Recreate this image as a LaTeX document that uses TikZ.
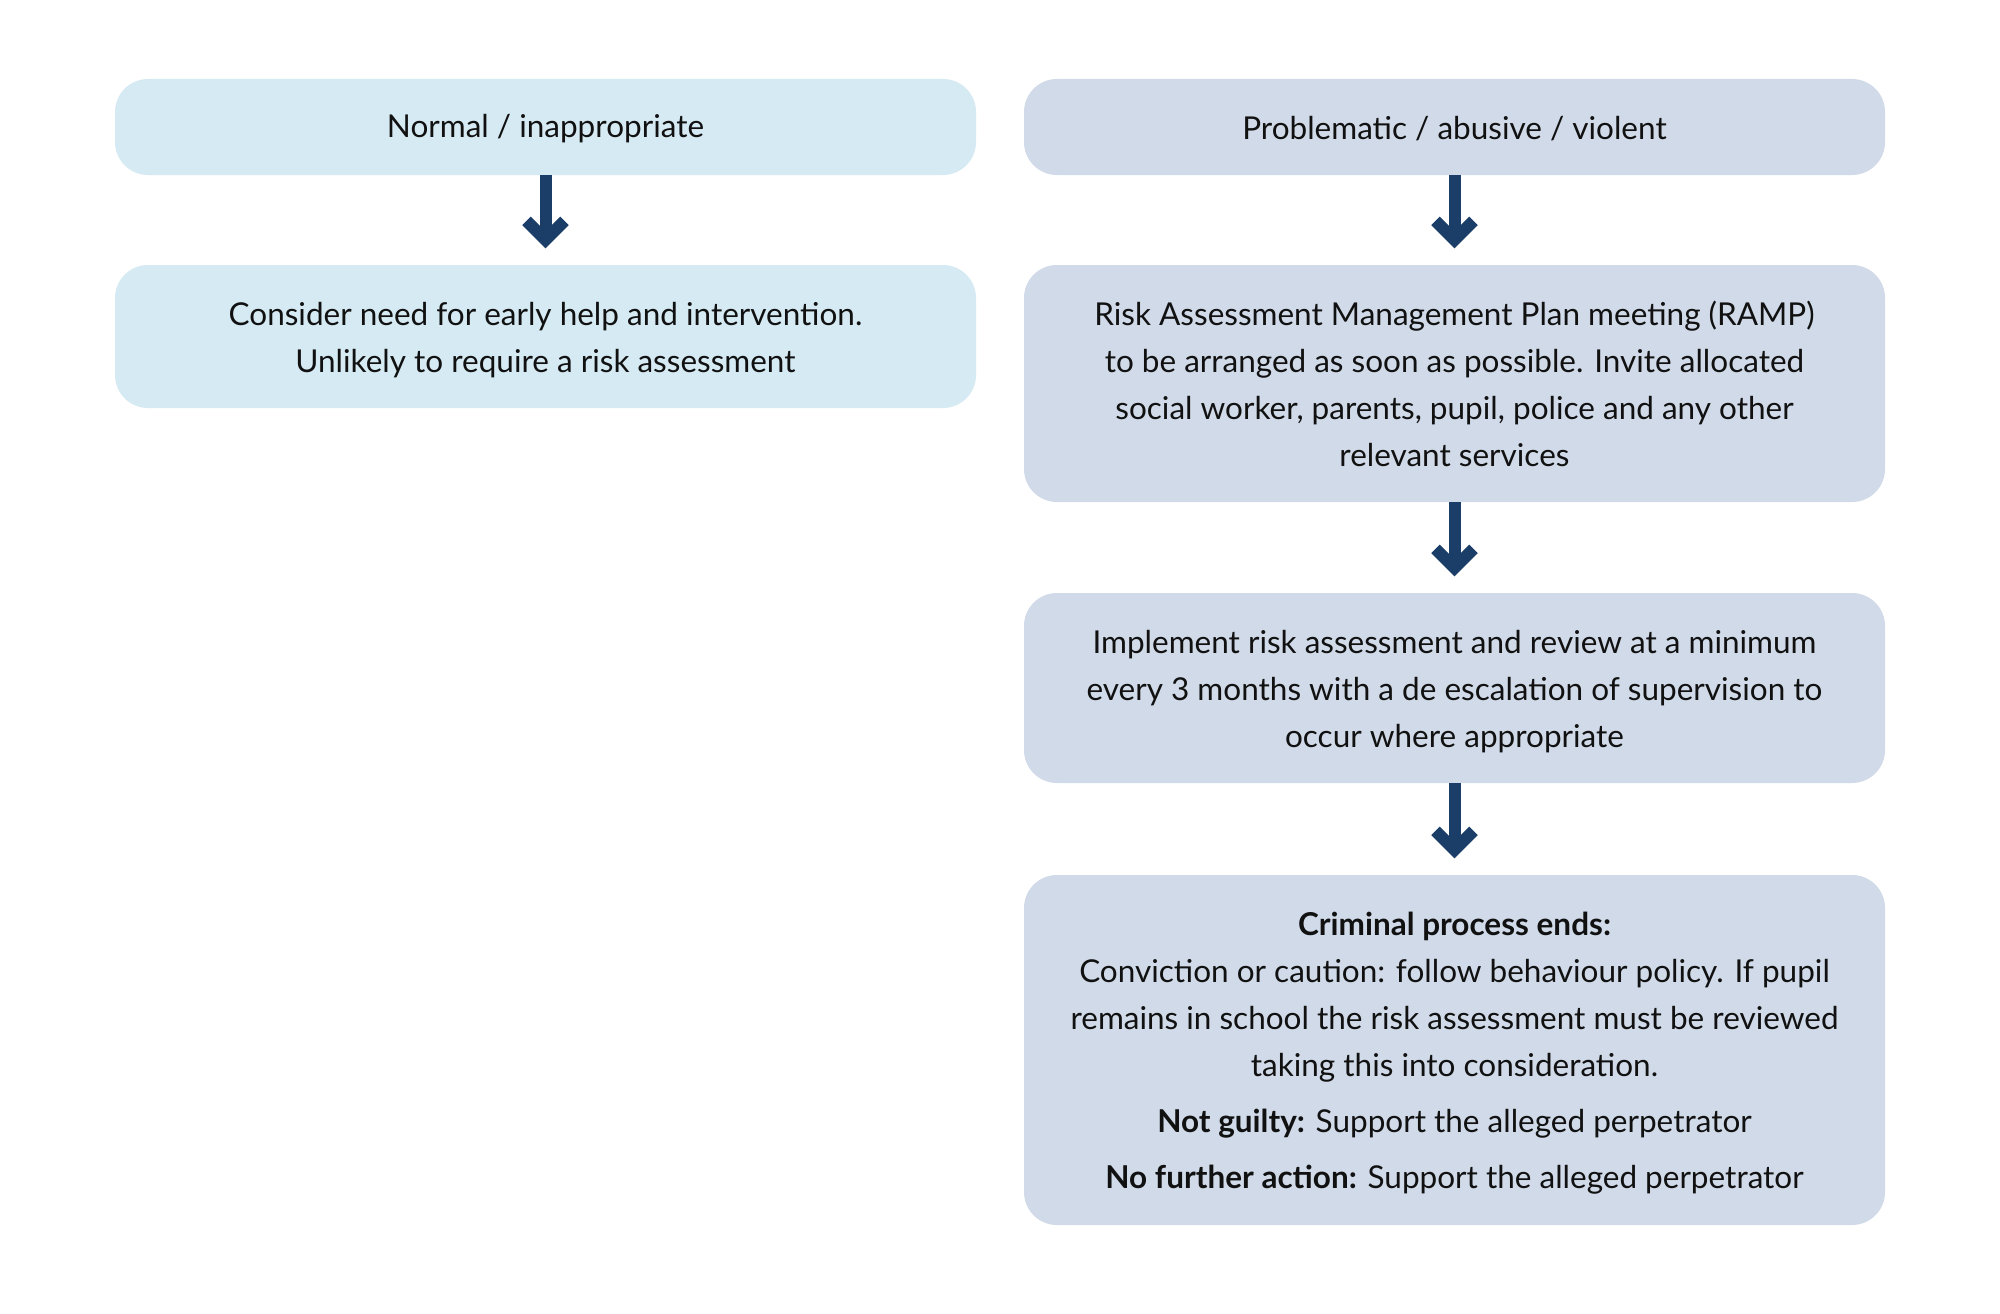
\documentclass[tikz,border=0pt]{standalone}
\usepackage{fontspec}
\setmainfont{Lato}
\usetikzlibrary{calc}
\definecolor{lightblue}{HTML}{D5EAF3}
\definecolor{greyblue}{HTML}{D0DAE8}
\definecolor{arrowblue}{HTML}{1B3E68}
\definecolor{txt}{HTML}{111111}
\begin{document}
\begin{tikzpicture}[x=1pt,y=-1pt,
  box/.style={rectangle, rounded corners=33pt, inner sep=0pt, minimum width=861pt},
  lbox/.style={box, fill=lightblue},
  rbox/.style={box, fill=greyblue},
  lbl/.style={align=center, text=txt, inner sep=0pt, font=\fontsize{31.5}{47}\selectfont},
  arr/.style={draw=arrowblue, line width=12pt},
  chev/.style={draw=arrowblue, line width=12pt, line join=miter}
]
\fill[white] (0,0) rectangle (2000,1314);
\useasboundingbox (0,0) rectangle (2000,1314);

\node[lbox, minimum height=96pt] (l1) at (545.5,127) {};
\node[rbox, minimum height=96pt] (r1) at (1454.5,127) {};
\node[lbox, minimum height=143pt] (l2) at (545.5,336.5) {};
\node[rbox, minimum height=237pt] (r2) at (1454.5,383.5) {};
\node[rbox, minimum height=190pt] (r3) at (1454.5,688) {};
\node[rbox, minimum height=350pt] (r4) at (1454.5,1050) {};

\node[lbl] (tl1) at ($(l1)+(0,2)$) {Normal / inappropriate};
\node[lbl] (tr1) at ($(r1)+(0,2)$) {Problematic / abusive / violent};
\node[lbl] (tl2) at ($(l2)+(0,4)$) {Consider need for early help and intervention.\\Unlikely to require a risk assessment};
\node[lbl] (tr2) at ($(r2)+(0,0)$) {Risk Assessment Management Plan meeting (RAMP)\\to be arranged as soon as possible. Invite allocated\\social worker, parents, pupil, police and any other\\relevant services};
\node[lbl] (tr3) at ($(r3)+(0,4)$) {Implement risk assessment and review at a minimum\\every 3 months with a de escalation of supervision to\\occur where appropriate};
\node[lbl] (tr4) at ($(r4)+(0,3)$) {\textbf{Criminal process ends:}\\Conviction or caution: follow behaviour policy. If pupil\\remains in school the risk assessment must be reviewed\\taking this into consideration.\\[9pt]\textbf{Not guilty:} Support the alleged perpetrator\\[9pt]\textbf{No further action:} Support the alleged perpetrator};

\foreach \a/\b/\n in {l1/l2/1, r1/r2/2, r2/r3/3, r3/r4/4}{
  \coordinate (tip\n) at ($(\b.north)+(0,-25)$);
  \draw[arr] (\a.south) -- (tip\n);
  \draw[chev] ($(tip\n)+(-19,-19)$) -- (tip\n) -- ($(tip\n)+(19,-19)$);
}
\end{tikzpicture}
\end{document}
